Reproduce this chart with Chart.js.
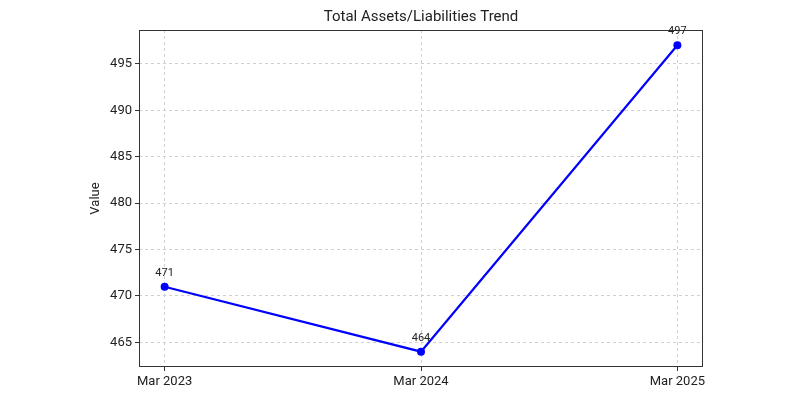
<!DOCTYPE html>
<html><head><meta charset="utf-8">
<script src="https://cdn.jsdelivr.net/npm/chart.js@4.4.1/dist/chart.umd.min.js"></script>
<style>html,body{margin:0;padding:0;background:#fff}#wrap{width:800px;height:400px}</style>
</head><body><div id="wrap"><canvas id="c" width="800" height="400"></canvas></div>
<script>
const categories = ['Mar 2023', 'Mar 2024', 'Mar 2025'];
const values = [471, 464, 497];
const yTicks = [465, 470, 475, 480, 485, 490, 495];
const chartTitle = 'Total Assets/Liabilities Trend';
const yLabel = 'Value';

const FONT = 'Roboto, "DejaVu Sans", sans-serif';

const framePlugin = {
  id: 'frame',
  afterDraw(chart) {
    const {ctx, chartArea: a} = chart;
    ctx.save();
    ctx.strokeStyle = '#333';
    ctx.lineWidth = 1;
    ctx.setLineDash([]);
    ctx.strokeRect(Math.round(a.left) + 0.5, Math.round(a.top) + 0.5,
                   Math.round(a.right - a.left) - 1, Math.round(a.bottom - a.top) - 1);
    ctx.fillStyle = '#222';
    ctx.font = '15px ' + FONT;
    ctx.textAlign = 'center';
    ctx.textBaseline = 'middle';
    ctx.fillText(chartTitle, (a.left + a.right) / 2, 17);
    ctx.font = '11px ' + FONT;
    ctx.textBaseline = 'alphabetic';
    const meta = chart.getDatasetMeta(0);
    meta.data.forEach((pt, i) => {
      ctx.fillText(String(values[i]), pt.x, pt.y - 11);
    });
    ctx.restore();
  }
};

new Chart(document.getElementById('c'), {
  type: 'line',
  data: {
    datasets: [{
      data: values.map((v, i) => ({x: i, y: v})),
      borderColor: '#0000ff',
      backgroundColor: '#0000ff',
      borderWidth: 2.2,
      pointRadius: 4,
      pointHoverRadius: 4,
      pointBorderWidth: 0,
      tension: 0,
      fill: false
    }]
  },
  options: {
    responsive: false,
    animation: false,
    devicePixelRatio: 1,
    layout: {padding: {left: 88, right: 97, top: 30, bottom: 0}},
    plugins: {legend: {display: false}, tooltip: {enabled: false}, title: {display: false}},
    scales: {
      x: {
        type: 'linear',
        min: -0.1, max: 2.1,
        afterBuildTicks(s) { s.ticks = categories.map((c, i) => ({value: i})); },
        afterFit(s) { s.height = 33; },
        ticks: {
          callback: (v) => categories[v] ?? '',
          color: '#222', font: {family: FONT, size: 13}, padding: 3, maxRotation: 0, autoSkip: false
        },
        grid: {color: '#d0d0d0', lineWidth: 1, tickColor: '#333', tickLength: 4, tickBorderDash: [], drawTicks: true},
        border: {display: false, dash: [3, 3]}
      },
      y: {
        type: 'linear',
        min: 462.35, max: 498.65,
        afterBuildTicks(s) { s.ticks = yTicks.map(v => ({value: v})); },
        afterFit(s) { s.width = 139 - 88; },
        ticks: {color: '#222', font: {family: FONT, size: 13}, padding: 3},
        title: {display: true, text: yLabel, color: '#222', font: {family: FONT, size: 13}, padding: {top: 0, bottom: 0}},
        grid: {color: '#d0d0d0', lineWidth: 1, tickColor: '#333', tickLength: 4, tickBorderDash: []},
        border: {display: false, dash: [3, 3]}
      }
    }
  },
  plugins: [framePlugin]
});
</script></body></html>
